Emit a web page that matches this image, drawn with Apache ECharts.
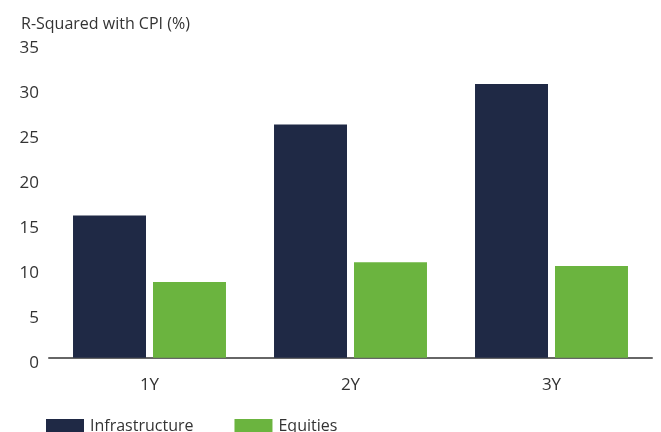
<!DOCTYPE html>
<html>
<head>
<meta charset="utf-8">
<script src="https://cdn.jsdelivr.net/npm/echarts@6/dist/echarts.min.js"></script>
<style>html,body{margin:0;padding:0;background:#fff}#c{width:661px;height:432px}</style>
</head>
<body>
<div id="c"></div>
<script>
const categories = ['1Y', '2Y', '3Y'];
const infrastructure = [15.8, 25.9, 30.4];
const equities = [8.4, 10.6, 10.2];
const yTicks = { min: 0, max: 35, interval: 5 };

const FONT = '"Open Sans", sans-serif';
const chart = echarts.init(document.getElementById('c'), null, { renderer: 'canvas' });
chart.setOption({
  animation: false,
  textStyle: { fontFamily: FONT },
  title: {
    text: 'R-Squared with CPI (%)',
    left: 16, top: 11,
    textStyle: { fontFamily: FONT, fontSize: 16, fontWeight: 'normal', color: '#333' }
  },
  legend: {
    left: 41, top: 413,
    itemWidth: 38, itemHeight: 14, itemGap: 41,
    icon: 'rect',
    textStyle: { fontFamily: FONT, fontSize: 16, color: '#333', padding: [0, 0, 0, 1] },
    data: ['Infrastructure', 'Equities']
  },
  grid: { left: 49, right: 9, top: 42.7, bottom: 74.3, containLabel: false },
  xAxis: {
    type: 'category',
    data: categories,
    axisLine: { lineStyle: { color: '#666', width: 2 } },
    axisTick: { show: false },
    axisLabel: { fontFamily: FONT, fontSize: 17, color: '#333', margin: 19 }
  },
  yAxis: {
    type: 'value',
    min: yTicks.min, max: yTicks.max, interval: yTicks.interval,
    axisLine: { show: false },
    axisTick: { show: false },
    splitLine: { show: false },
    axisLabel: { fontFamily: FONT, fontSize: 17, color: '#333', margin: 10, verticalAlign: 'top', lineHeight: 11 }
  },
  series: [
    { name: 'Infrastructure', type: 'bar', data: infrastructure, itemStyle: { color: '#1F2945' }, barGap: '9.6%', barCategoryGap: '23.9%' },
    { name: 'Equities', type: 'bar', data: equities, itemStyle: { color: '#6BB43F' } }
  ]
});
</script>
</body>
</html>
